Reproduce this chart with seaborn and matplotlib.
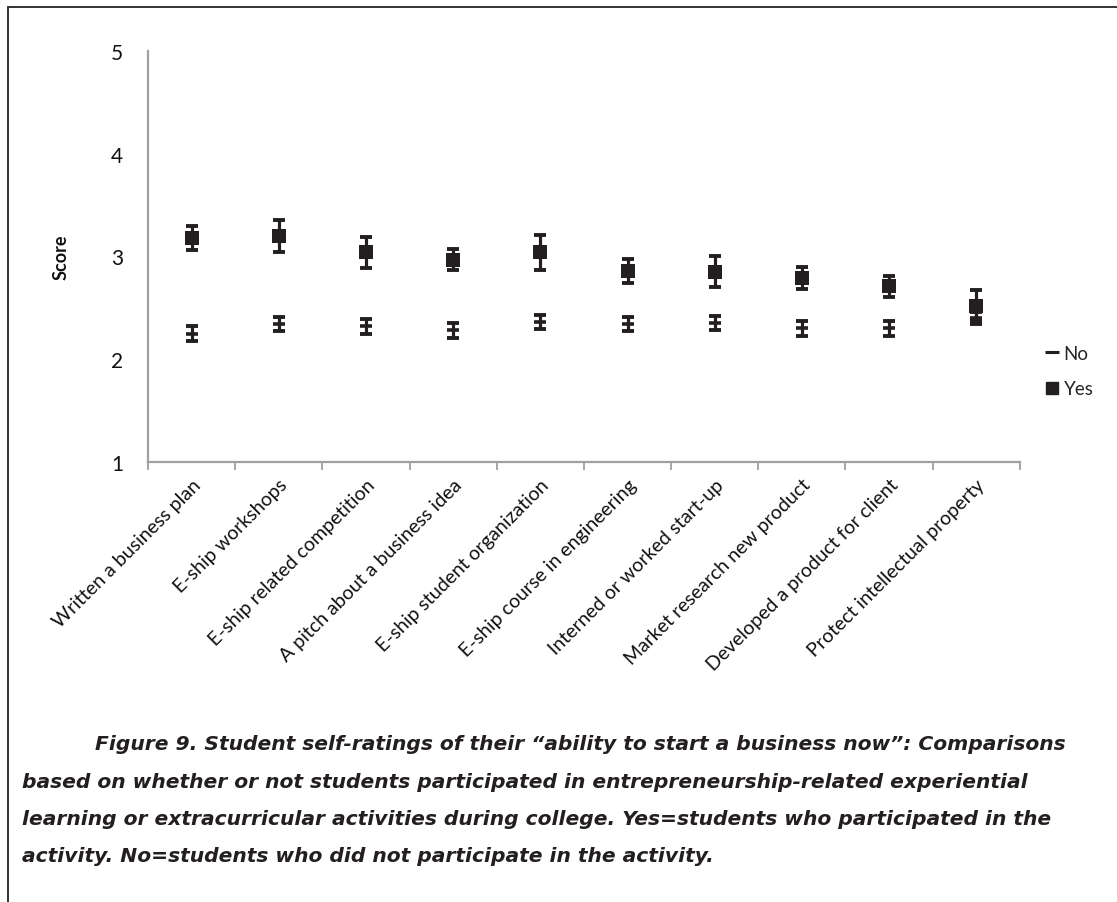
import matplotlib
matplotlib.use("Agg")
import matplotlib.pyplot as plt
from matplotlib.lines import Line2D
import seaborn as sns
import pandas as pd

categories = [
    "Written a business plan",
    "E-ship workshops",
    "E-ship related competition",
    "A pitch about a business idea",
    "E-ship student organization",
    "E-ship course in engineering",
    "Interned or worked start-up",
    "Market research new product",
    "Developed a product for client",
    "Protect intellectual property",
]
no_values = [2.25, 2.34, 2.32, 2.28, 2.36, 2.34, 2.35, 2.30, 2.30, 2.40]
no_err = [0.07, 0.07, 0.07, 0.07, 0.07, 0.07, 0.07, 0.07, 0.07, 0.06]
yes_values = [3.18, 3.20, 3.04, 2.97, 3.04, 2.86, 2.85, 2.79, 2.71, 2.52]
yes_err = [0.12, 0.16, 0.15, 0.10, 0.17, 0.12, 0.15, 0.11, 0.10, 0.15]
y_ticks = [1, 2, 3, 4, 5]
caption_lines = [
    "Figure 9. Student self-ratings of their \u201cability to start a business now\u201d: Comparisons",
    "based on whether or not students participated in entrepreneurship-related experiential",
    "learning or extracurricular activities during college. Yes=students who participated in the",
    "activity. No=students who did not participate in the activity.",
]

INK = "#231f20"
AXC = "#a0a0a0"

sns.set_theme(style="white")
plt.rcParams["font.family"] = ["Lato", "DejaVu Sans"]

fig = plt.figure(figsize=(11.17, 9.03), dpi=100)
ax = fig.add_axes([0.1325, 0.4873, 0.913 - 0.1325, 0.9424 - 0.4873])

df = pd.DataFrame({
    "category": categories * 2,
    "score": no_values + yes_values,
    "group": ["No"] * len(categories) + ["Yes"] * len(categories),
})

ax.errorbar(categories, no_values, yerr=no_err, fmt="none", ecolor=INK,
            elinewidth=2.3, capsize=4.2, capthick=2.8, zorder=2)
ax.errorbar(categories, yes_values, yerr=yes_err, fmt="none", ecolor=INK,
            elinewidth=2.3, capsize=4.2, capthick=2.8, zorder=3)

sns.scatterplot(data=df[df.group == "No"], x="category", y="score", marker="_",
                s=80, linewidth=2.6, color=INK, ax=ax, zorder=4, legend=False)
sns.scatterplot(data=df[df.group == "Yes"], x="category", y="score", marker="s",
                s=110, linewidth=0, color=INK, ax=ax, zorder=5, legend=False)

ax.set_xlim(-0.5, len(categories) - 0.5)
ax.set_ylim(1, 5)
ax.set_yticks(y_ticks)
ax.set_yticklabels([str(t) for t in y_ticks], fontsize=15, color="#111111")
ax.set_xticks(range(len(categories)))
ax.set_xticklabels(categories, rotation=45, ha="right", rotation_mode="anchor",
                   fontsize=14, color="#111111")
ax.set_xticks([i - 0.5 for i in range(len(categories) + 1)], minor=True)
ax.tick_params(axis="x", which="major", length=0, pad=10)
ax.tick_params(axis="x", which="minor", length=6, width=1.3, color=AXC, direction="out")
ax.tick_params(axis="y", which="major", length=6, width=1.3, color=AXC, direction="out", pad=12)
ax.tick_params(axis="x", which="major", bottom=False)
ax.xaxis.set_tick_params(which="minor", bottom=True)

for side in ["top", "right"]:
    ax.spines[side].set_visible(False)
for side in ["left", "bottom"]:
    ax.spines[side].set_color(AXC)
    ax.spines[side].set_linewidth(1.6)
ax.grid(False)

ax.set_xlabel("")
ax.set_ylabel("Score", fontsize=13, fontweight="bold", color="#111111", labelpad=30)

handles = [
    Line2D([], [], marker="_", linestyle="none", color=INK, markersize=10, markeredgewidth=2.2),
    Line2D([], [], marker="s", linestyle="none", color=INK, markersize=9),
]
fig.legend(handles, ["No", "Yes"], loc="center left", bbox_to_anchor=(0.922, 0.588),
           frameon=False, fontsize=13.5, handlelength=0.6, handletextpad=0.3,
           labelspacing=1.0)

# page frame (top and left edges)
fig.add_artist(Line2D([8 / 1117, 1.0], [1 - 8 / 903, 1 - 8 / 903], color="#333333", linewidth=1.4))
fig.add_artist(Line2D([8 / 1117, 8 / 1117], [0.0, 1 - 8 / 903], color="#333333", linewidth=1.4))

caption_y = [745, 783, 820, 857]
caption_x = [95, 22, 22, 22]
for txt, yy, xx in zip(caption_lines, caption_y, caption_x):
    fig.text(xx / 1117, 1 - yy / 903, txt, fontsize=14.6, fontweight="bold", style="italic",
             family=["DejaVu Sans"], color="#231f20", va="center", ha="left")

fig.savefig("out.png", dpi=100)
